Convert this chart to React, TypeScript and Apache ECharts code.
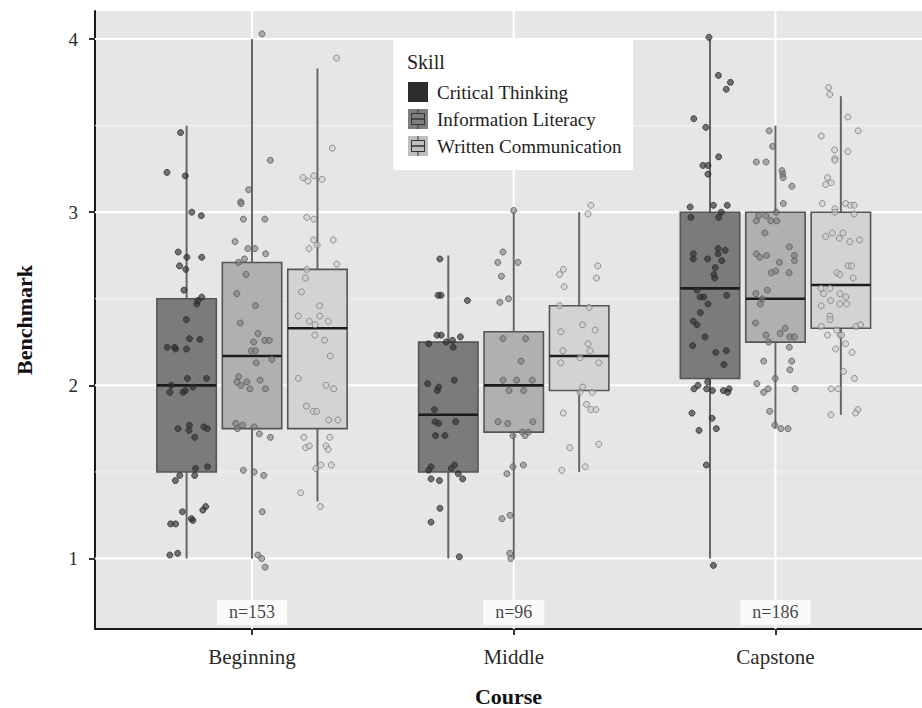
import React, { useEffect, useRef } from "react";
import * as echarts from "echarts";

const courses = ["Beginning", "Middle", "Capstone"];
const skills = ["Critical Thinking", "Information Literacy", "Written Communication"];
const courseCounts = ["n=153", "n=96", "n=186"];
const countLabelY = 0.69;
const yTicks = [1, 2, 3, 4];
const yMinorTicks = [1.5, 2.5, 3.5];
const xTicks = [1, 2, 3];
const xRange = [0.4, 3.56];
const yRange = [0.593, 4.162];

// box stats per course: [lower whisker, Q1, median, Q3, upper whisker]
const criticalThinkingBox = [
  [1, 1.5, 2.0, 2.5, 3.5],
  [1, 1.5, 1.83, 2.25, 2.75],
  [1, 2.04, 2.56, 3.0, 4.0],
];
const infoLiteracyBox = [
  [1, 1.75, 2.17, 2.71, 4.0],
  [1, 1.73, 2.0, 2.31, 3.0],
  [1.75, 2.25, 2.5, 3.0, 3.5],
];
const writtenCommBox = [
  [1.33, 1.75, 2.33, 2.67, 3.83],
  [1.5, 1.97, 2.17, 2.46, 3.0],
  [1.83, 2.33, 2.58, 3.0, 3.67],
];

// jittered observations: [horizontal jitter in % of a category, score]
const ctBeginning = [
  [-2.3, 3.46], [-7.5, 3.23], [-0.5, 3.21], [2.0, 3.0], [5.6, 2.98], [-3.2, 2.77], [0.1, 2.74], [5.8, 2.74],
  [-2.7, 2.69], [-0.3, 2.67], [-1.0, 2.55], [5.8, 2.51], [4.3, 2.49], [3.9, 2.47], [-0.1, 2.38], [1.1, 2.27],
  [5.1, 2.265], [-7.4, 2.22], [-4.6, 2.22], [-4.2, 2.21], [0, 2.21], [0.3, 2.04], [7.6, 2.04], [-5.9, 2.0],
  [-6.4, 1.96], [-1.4, 1.96], [-0.5, 1.97], [2.4, 1.99], [-3.3, 1.75], [1.1, 1.77], [0.9, 1.74], [6.6, 1.76],
  [7.9, 1.75], [3.1, 1.7], [3.4, 1.52], [8.0, 1.53], [-2.6, 1.48], [3.1, 1.48], [-4.3, 1.45], [-1.6, 1.27],
  [6.2, 1.28], [7.3, 1.3], [1.8, 1.23], [2.4, 1.22], [-6.1, 1.2], [-4.2, 1.2], [-6.4, 1.02], [-3.4, 1.03],
];
const ilBeginning = [
  [3.8, 4.03], [7.0, 3.3], [-1.3, 3.13], [-4.3, 3.06], [-4.2, 3.05], [-3.3, 2.96], [4.9, 2.96], [-6.5, 2.83],
  [-1.6, 2.79], [1.1, 2.79], [5.2, 2.76], [-2.9, 2.73], [-5.2, 2.71], [-2.3, 2.64], [-5.8, 2.53], [1.3, 2.46],
  [-4.5, 2.36], [2.3, 2.3], [0.6, 2.25], [4.9, 2.26], [6.6, 2.26], [-0.3, 2.2], [1.3, 2.2], [7.6, 2.15],
  [1.6, 2.13], [-5.1, 2.05], [-5.8, 2.02], [-4.2, 2.0], [-2.0, 2.02], [3.1, 2.03], [-0.8, 1.98], [5.1, 1.98],
  [-6.2, 1.78], [-5.6, 1.75], [-3.6, 1.77], [0.8, 1.76], [2.8, 1.72], [7.0, 1.7], [-3.3, 1.51], [0.8, 1.5],
  [4.5, 1.48], [3.9, 1.27], [2.2, 1.02], [3.7, 1.0], [5.0, 0.95],
];
const wcBeginning = [
  [7.3, 3.89], [5.7, 3.37], [-5.5, 3.2], [-3.6, 3.18], [-1.4, 3.21], [1.8, 3.19], [-4.1, 2.97], [-1.4, 2.96],
  [-1.5, 2.84], [6.0, 2.84], [-3.2, 2.79], [-0.1, 2.81], [7.4, 2.7], [-4.1, 2.67], [-4.6, 2.62], [-6.1, 2.54],
  [0.8, 2.46], [-7.3, 2.4], [0.9, 2.4], [-3.1, 2.37], [-0.9, 2.35], [4.1, 2.37], [-1.0, 2.29], [2.7, 2.26],
  [4.9, 2.17], [-7.3, 2.04], [3.3, 2.0], [6.2, 1.98], [-4.2, 1.88], [-1.6, 1.85], [-0.3, 1.85], [4.3, 1.8],
  [7.8, 1.8], [-5.2, 1.7], [4.7, 1.7], [-4.5, 1.64], [-3.1, 1.65], [3.3, 1.65], [4.1, 1.63], [-0.6, 1.52],
  [1.3, 1.54], [5.3, 1.54], [-6.4, 1.38], [1.1, 1.3],
];
const ctMiddle = [
  [-3.2, 2.73], [-3.9, 2.52], [-2.8, 2.52], [7.3, 2.49], [-4.3, 2.29], [-2.7, 2.29], [4.6, 2.28], [-0.8, 2.25],
  [1.6, 2.26], [-7.5, 2.24], [1.9, 2.22], [-7.9, 2.01], [2.3, 2.03], [-3.7, 1.99], [-4.2, 1.97], [-5.3, 1.86],
  [-5.1, 1.79], [-3.7, 1.78], [2.8, 1.79], [-4.9, 1.71], [-1.3, 1.71], [-6.6, 1.53], [-7.5, 1.51], [2.4, 1.54],
  [1.1, 1.52], [3.8, 1.49], [-6.6, 1.46], [-3.4, 1.45], [5.5, 1.46], [-3.2, 1.29], [-6.6, 1.21], [4.2, 1.01],
];
const ilMiddle = [
  [0, 3.01], [-4.1, 2.77], [-6.1, 2.71], [1.6, 2.71], [-4.7, 2.63], [-5.3, 2.48], [-2.0, 2.5], [-4.1, 2.27],
  [4.5, 2.27], [2.8, 2.14], [-4.1, 2.03], [1.1, 2.03], [7.1, 2.03], [-1.8, 1.97], [3.8, 1.97], [-6.0, 1.79],
  [-2.3, 1.78], [7.3, 1.79], [3.3, 1.73], [5.6, 1.73], [4.3, 1.71], [-0.3, 1.71], [-0.3, 1.53], [3.7, 1.54],
  [-2.6, 1.49], [-4.5, 1.23], [-1.4, 1.25], [-1.5, 1.03], [-1.1, 1.0],
];
const wcMiddle = [
  [4.5, 3.04], [3.4, 2.99], [7.1, 2.69], [-7.5, 2.64], [-6.0, 2.67], [6.6, 2.62], [-5.7, 2.57], [-7.5, 2.46],
  [3.8, 2.45], [1.3, 2.35], [6.1, 2.32], [-7.0, 2.31], [3.4, 2.24], [-6.2, 2.2], [4.2, 2.2], [0.4, 2.16],
  [-7.0, 2.13], [7.5, 2.13], [1.3, 1.99], [0.3, 1.96], [5.0, 1.96], [2.8, 1.89], [4.5, 1.86], [6.4, 1.86],
  [-6.1, 1.84], [-3.6, 1.64], [7.5, 1.66], [-6.6, 1.51], [2.3, 1.53],
];
const ctCapstone = [
  [-0.4, 4.01], [3.2, 3.79], [7.8, 3.75], [6.2, 3.71], [-6.2, 3.54], [-1.6, 3.49], [3.3, 3.32], [-2.7, 3.27],
  [-0.8, 3.27], [-0.8, 3.22], [-7.6, 3.03], [1.3, 3.04], [6.6, 3.04], [4.3, 3.0], [-7.3, 2.97], [3.3, 2.97],
  [-6.4, 2.76], [3.1, 2.79], [5.8, 2.78], [-6.4, 2.73], [-0.9, 2.73], [3.1, 2.76], [4.5, 2.72], [2.0, 2.68],
  [1.5, 2.64], [1.8, 2.62], [-5.0, 2.55], [-3.8, 2.51], [-2.4, 2.51], [-0.8, 2.47], [6.4, 2.52], [-3.7, 2.42],
  [-6.4, 2.37], [-5.0, 2.35], [-1.9, 2.28], [-6.6, 2.23], [2.2, 2.19], [6.2, 2.2], [5.3, 2.12], [-0.9, 2.02],
  [-4.6, 2.0], [-6.1, 1.98], [-1.3, 1.98], [0.9, 1.97], [5.1, 1.97], [7.3, 1.98], [6.8, 1.96], [-6.9, 1.84],
  [0.8, 1.81], [-4.2, 1.74], [2.4, 1.75], [-1.4, 1.54], [1.3, 0.96],
];
const ilCapstone = [
  [-2.4, 3.47], [-1.1, 3.38], [-7.3, 3.29], [-3.6, 3.29], [2.5, 3.24], [2.8, 3.22], [2.9, 3.2], [6.3, 3.15],
  [3.0, 3.05], [0.3, 3.0], [-6.4, 2.98], [-3.6, 2.98], [-1.8, 2.95], [0.5, 2.95], [-7.3, 2.95], [-4.0, 2.88],
  [5.3, 2.8], [-7.3, 2.76], [-3.4, 2.75], [-6.0, 2.74], [7.2, 2.75], [7.3, 2.72], [1.5, 2.71], [0.1, 2.66],
  [5.2, 2.65], [-1.6, 2.65], [-3.1, 2.55], [-7.5, 2.53], [-5.0, 2.5], [-5.8, 2.47], [-7.6, 2.36], [3.7, 2.33],
  [1.8, 2.3], [5.5, 2.28], [7.2, 2.28], [-3.6, 2.29], [-2.6, 2.25], [5.3, 2.22], [-4.5, 2.14], [6.2, 2.14],
  [5.5, 2.09], [-0.1, 2.04], [-7.1, 2.01], [-2.8, 1.98], [-4.5, 1.96], [7.5, 1.98], [-2.2, 1.85], [-0.2, 1.77],
  [2.1, 1.75], [4.8, 1.75],
];
const wcCapstone = [
  [-4.7, 3.72], [-4.2, 3.68], [2.7, 3.55], [6.6, 3.47], [-7.5, 3.44], [-2.4, 3.36], [-2.3, 3.31], [-2.3, 3.3],
  [2.7, 3.35], [-5.1, 3.2], [-5.8, 3.16], [-3.7, 3.17], [-7.1, 3.05], [-2.3, 3.02], [1.8, 3.05], [3.7, 3.04],
  [5.1, 3.04], [-2.3, 3.0], [5.1, 2.99], [-5.8, 2.86], [-3.3, 2.88], [-0.6, 2.85], [0.8, 2.88], [3.4, 2.83],
  [7.1, 2.84], [2.8, 2.69], [4.1, 2.69], [-1.5, 2.65], [-0.4, 2.64], [4.7, 2.62], [-7.6, 2.56], [-4.2, 2.56],
  [-6.6, 2.53], [-0.4, 2.53], [1.9, 2.51], [-3.9, 2.49], [-7.5, 2.46], [-0.4, 2.47], [2.2, 2.47], [-4.2, 2.4],
  [-4.1, 2.38], [-7.5, 2.34], [-5.1, 2.29], [-1.6, 2.32], [-0.3, 2.29], [0.3, 2.29], [5.8, 2.34], [7.5, 2.35],
  [1.8, 2.24], [-2.0, 2.21], [4.3, 2.19], [1.0, 2.08], [5.2, 2.04], [-3.7, 1.98], [-1.1, 1.98], [6.5, 1.86],
  [5.6, 1.84], [-3.8, 1.83],
];

const boxStats = [criticalThinkingBox, infoLiteracyBox, writtenCommBox];
const pointsBySkill = [
  [ctBeginning, ctMiddle, ctCapstone],
  [ilBeginning, ilMiddle, ilCapstone],
  [wcBeginning, wcMiddle, wcCapstone],
];

// styling / layout
const FONT = "Liberation Serif";
const dodge = [-0.25, 0, 0.25];
const boxWidth = 0.227;
const boxFill = ["#7b7b7b", "#b0b0b0", "#d3d3d3"];
const pointFill = ["rgba(45,45,45,0.8)", "rgba(125,125,125,0.75)", "rgba(205,205,205,0.7)"];
const pointStroke = ["#2e2e2e", "#575757", "#7a7a7a"];
const keyFill = ["#2e2e2e", "#7f7f7f", "#bdbdbd"];

export default function App() {
  const ref = useRef<HTMLDivElement>(null);

  useEffect(() => {
    if (!ref.current) return;
    const chart = echarts.init(ref.current, null, { renderer: "svg" });

    // panel grid lines: [x, y, kind] kind 0 = minor horizontal, 1 = major horizontal, 2 = major vertical
    const gridData = [
      ...yMinorTicks.map((v) => [xRange[0], v, 0]),
      ...yTicks.map((v) => [xRange[0], v, 1]),
      ...xTicks.map((v) => [v, yRange[0], 2]),
    ];
    const gridSeries = {
      type: "custom",
      name: "grid",
      z: 1,
      silent: true,
      data: gridData,
      renderItem: (params: any, api: any) => {
        const cs = params.coordSys;
        const kind = api.value(2);
        const p = api.coord([api.value(0), api.value(1)]);
        if (kind === 2) {
          return {
            type: "line",
            shape: { x1: p[0], y1: cs.y, x2: p[0], y2: cs.y + cs.height },
            style: { stroke: "#ffffff", lineWidth: 2 },
          };
        }
        return {
          type: "line",
          shape: { x1: cs.x, y1: p[1], x2: cs.x + cs.width, y2: p[1] },
          style: { stroke: kind === 1 ? "#ffffff" : "#f3f3f3", lineWidth: kind === 1 ? 2 : 1 },
        };
      },
    };

    const boxSeries = skills.map((skill, s) => ({
      type: "custom",
      name: skill,
      z: 2,
      encode: { x: 0, y: [1, 2, 3, 4, 5] },
      data: boxStats[s].map((b, c) => [c + 1 + dodge[s], ...b]),
      renderItem: (_params: any, api: any) => {
        const x = api.value(0);
        const lo = api.coord([x, api.value(1)]);
        const q1 = api.coord([x, api.value(2)]);
        const med = api.coord([x, api.value(3)]);
        const q3 = api.coord([x, api.value(4)]);
        const hi = api.coord([x, api.value(5)]);
        const w = api.size([boxWidth, 0])[0];
        const whisker = { stroke: "#666666", lineWidth: 2 };
        return {
          type: "group",
          children: [
            { type: "line", shape: { x1: lo[0], y1: lo[1], x2: q1[0], y2: q1[1] }, style: whisker },
            { type: "line", shape: { x1: q3[0], y1: q3[1], x2: hi[0], y2: hi[1] }, style: whisker },
            {
              type: "rect",
              shape: { x: q1[0] - w / 2, y: q3[1], width: w, height: q1[1] - q3[1] },
              style: { fill: boxFill[s], stroke: "#555555", lineWidth: 1.6 },
            },
            {
              type: "line",
              shape: { x1: med[0] - w / 2, y1: med[1], x2: med[0] + w / 2, y2: med[1] },
              style: { stroke: "#1c1c1c", lineWidth: 2.6 },
            },
          ],
        };
      },
    }));

    const pointSeries = skills.map((skill, s) => ({
      type: "scatter",
      name: skill + " points",
      z: 3,
      symbolSize: 6,
      itemStyle: { color: pointFill[s], borderColor: pointStroke[s], borderWidth: 1 },
      data: pointsBySkill[s].flatMap((pts, c) =>
        pts.map(([j, v]) => [c + 1 + dodge[s] + j / 100, v])
      ),
    }));

    const countSeries = {
      type: "scatter",
      name: "counts",
      z: 4,
      symbolSize: 1,
      itemStyle: { color: "transparent" },
      data: courseCounts.map((t, c) => ({ value: [c + 1, countLabelY], name: t })),
      label: {
        show: true,
        position: "inside",
        formatter: (p: any) => p.name,
        backgroundColor: "#ffffff",
        padding: [4, 12, 3, 12],
        fontFamily: FONT,
        fontSize: 18,
        color: "#111111",
      },
    };

    const legendChildren: any[] = [
      { type: "rect", shape: { x: 393, y: 39, width: 240, height: 131 }, style: { fill: "#ffffff" } },
      {
        type: "text",
        x: 407,
        y: 62,
        style: { text: "Skill", fontFamily: FONT, fontSize: 20, fill: "#222", verticalAlign: "middle" },
      },
    ];
    skills.forEach((skill, s) => {
      const top = 82 + 27 * s;
      legendChildren.push({
        type: "rect",
        shape: { x: 408, y: top, width: 20, height: 20 },
        style: { fill: keyFill[s] },
      });
      if (s > 0) {
        legendChildren.push(
          { type: "line", shape: { x1: 418, y1: top, x2: 418, y2: top + 4.5 }, style: { stroke: "#333", lineWidth: 1 } },
          { type: "line", shape: { x1: 418, y1: top + 15.5, x2: 418, y2: top + 20 }, style: { stroke: "#333", lineWidth: 1 } },
          {
            type: "rect",
            shape: { x: 411.5, y: top + 4.5, width: 13, height: 11 },
            style: { fill: "none", stroke: "#333", lineWidth: 1 },
          },
          { type: "line", shape: { x1: 411.5, y1: top + 10, x2: 424.5, y2: top + 10 }, style: { stroke: "#333", lineWidth: 1.5 } }
        );
      }
      legendChildren.push({
        type: "text",
        x: 437,
        y: top + 10,
        style: { text: skill, fontFamily: FONT, fontSize: 19, fill: "#222", verticalAlign: "middle" },
      });
    });

    chart.setOption({
      animation: false,
      backgroundColor: "#ffffff",
      textStyle: { fontFamily: FONT },
      grid: {
        left: 95,
        right: 0,
        top: 11,
        bottom: 79,
        show: true,
        backgroundColor: "#e6e6e6",
        borderWidth: 0,
        containLabel: false,
        outerBoundsMode: "none",
      },
      xAxis: {
        type: "value",
        min: xRange[0],
        max: xRange[1],
        name: "Course",
        nameLocation: "middle",
        nameGap: 56,
        nameTextStyle: { fontFamily: FONT, fontSize: 22, fontWeight: "bold", color: "#111" },
        axisLine: { show: true, onZero: false, lineStyle: { color: "#1a1a1a", width: 2 } },
        axisTick: { show: true, customValues: xTicks, length: 6, lineStyle: { color: "#333", width: 2 } },
        axisLabel: {
          customValues: xTicks,
          formatter: (v: number) => courses[Math.round(v) - 1] ?? "",
          margin: 17,
          fontFamily: FONT,
          fontSize: 21,
          color: "#2a2a2a",
        },
        splitLine: { show: false },
      },
      yAxis: {
        type: "value",
        min: yRange[0],
        max: yRange[1],
        name: "Benchmark",
        nameLocation: "middle",
        nameRotate: 90,
        nameGap: 60,
        nameTextStyle: { fontFamily: FONT, fontSize: 22, fontWeight: "bold", color: "#111" },
        axisLine: { show: true, onZero: false, lineStyle: { color: "#1a1a1a", width: 2 } },
        axisTick: { show: true, customValues: yTicks, length: 6, lineStyle: { color: "#333", width: 2 } },
        axisLabel: {
          customValues: yTicks,
          margin: 17,
          fontFamily: FONT,
          fontSize: 19,
          color: "#2a2a2a",
        },
        splitLine: { show: false },
      },
      graphic: [{ type: "group", z: 100, zlevel: 0, children: legendChildren.map((c) => ({ ...c, z: 100 })) }],
      series: [gridSeries, ...boxSeries, ...pointSeries, countSeries],
    } as any);

    return () => chart.dispose();
  }, []);

  return <div ref={ref} style={{ position: "absolute", left: 0, top: 0, width: 922, height: 708 }} />;
}
